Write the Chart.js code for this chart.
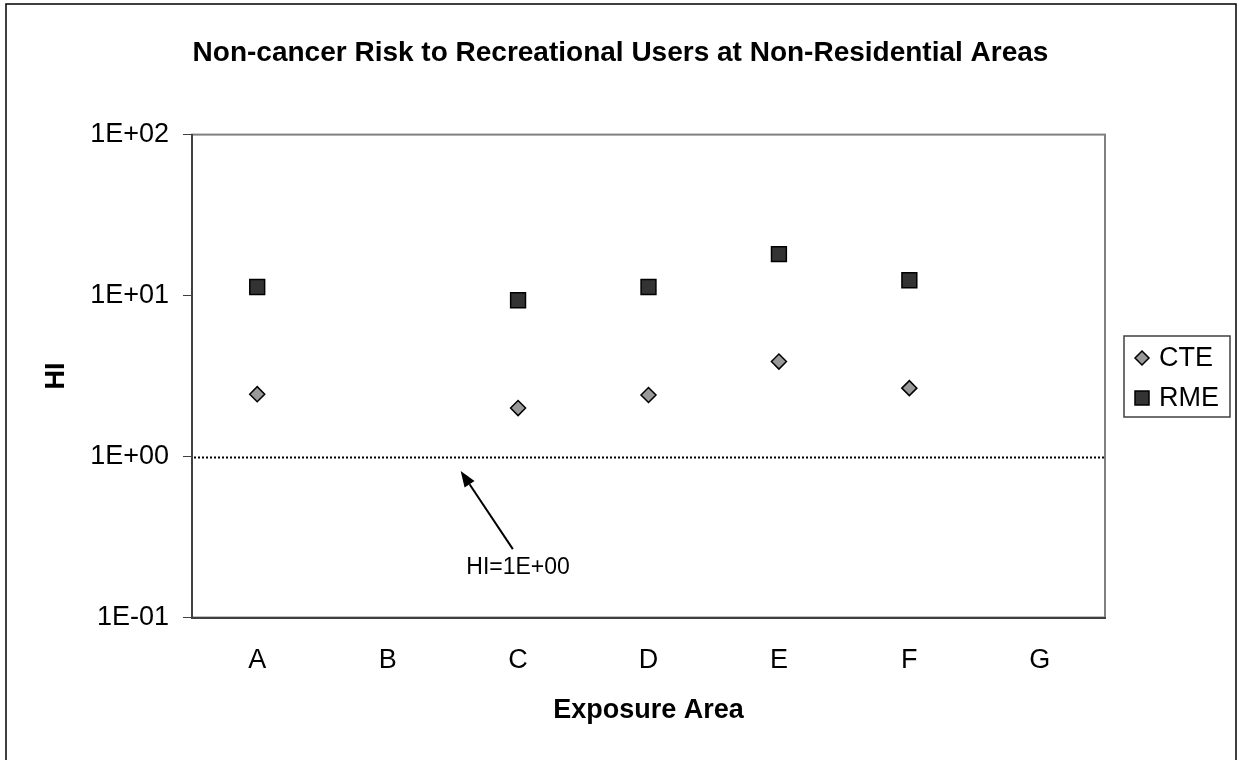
<!DOCTYPE html>
<html>
<head>
<meta charset="utf-8">
<script src="https://cdn.jsdelivr.net/npm/chart.js@4/dist/chart.umd.min.js"></script>
<style>
  html, body { margin: 0; padding: 0; background: #fff; }
  #wrap { width: 1241px; height: 760px; }
</style>
</head>
<body>
<div id="wrap"><canvas id="chart" width="1241" height="760"></canvas></div>
<script>
// values (HI per exposure area)
const areas = ['A', 'B', 'C', 'D', 'E', 'F', 'G'];
const cte = [2.44, null, 2.0, 2.41, 3.89, 2.66, null];
const rme = [11.3, null, 9.35, 11.3, 18.1, 12.45, null];
const yTicks = [0.1, 1, 10, 100];
const yTickLabels = ['1E-01', '1E+00', '1E+01', '1E+02'];
const threshold = 1;
const thresholdLabel = 'HI=1E+00';

// annotation anchors in data space (category index, HI)
const arrowTip = { x: 1.56, y: 0.814 };
const arrowTail = { x: 1.96, y: 0.266 };
const labelAt = { x: 2.0, y: 0.205 };

const FONT = '"Liberation Sans", Arial, Helvetica, sans-serif';

function diamond(ctx, x, y, r) {
  ctx.beginPath();
  ctx.moveTo(x, y - r);
  ctx.lineTo(x + r, y);
  ctx.lineTo(x, y + r);
  ctx.lineTo(x - r, y);
  ctx.closePath();
}

const decor = {
  id: 'decor',
  beforeDraw(chart) {
    const { ctx, chartArea: a } = chart;
    ctx.save();
    ctx.fillStyle = '#fff';
    ctx.fillRect(0, 0, chart.width, chart.height);
    // outer frame
    ctx.strokeStyle = '#000';
    ctx.lineWidth = 1.5;
    ctx.beginPath();
    ctx.moveTo(6, chart.height + 2);
    ctx.lineTo(6, 4);
    ctx.lineTo(1236, 4);
    ctx.lineTo(1236, chart.height + 2);
    ctx.stroke();
    // plot area frame
    ctx.strokeStyle = '#808080';
    ctx.lineWidth = 2;
    ctx.strokeRect(a.left, a.top, a.right - a.left, a.bottom - a.top);
    ctx.restore();
  },
  beforeDatasetsDraw(chart) {
    const { ctx, chartArea: a, scales } = chart;
    const y = Math.round(scales.y.getPixelForValue(threshold)) + 0.5;
    ctx.save();
    ctx.strokeStyle = '#000';
    ctx.lineWidth = 2;
    ctx.setLineDash([2, 2]);
    ctx.beginPath();
    ctx.moveTo(a.left + 2, y);
    ctx.lineTo(a.right, y);
    ctx.stroke();
    ctx.restore();
  },
  afterDraw(chart) {
    const { ctx, chartArea: a, scales } = chart;
    const x = scales.x, y = scales.y;
    ctx.save();

    // arrow pointing at the HI = 1 line
    const x1 = x.getPixelForValue(arrowTail.x), y1 = y.getPixelForValue(arrowTail.y);
    const x2 = x.getPixelForValue(arrowTip.x), y2 = y.getPixelForValue(arrowTip.y);
    const ang = Math.atan2(y2 - y1, x2 - x1);
    const head = 16, half = 6;
    const bx = x2 - head * Math.cos(ang), by = y2 - head * Math.sin(ang);
    ctx.strokeStyle = '#000';
    ctx.fillStyle = '#000';
    ctx.lineWidth = 2;
    ctx.beginPath();
    ctx.moveTo(x1, y1);
    ctx.lineTo(bx, by);
    ctx.stroke();
    ctx.beginPath();
    ctx.moveTo(x2, y2);
    ctx.lineTo(bx + half * Math.sin(ang), by - half * Math.cos(ang));
    ctx.lineTo(bx - half * Math.sin(ang), by + half * Math.cos(ang));
    ctx.closePath();
    ctx.fill();

    ctx.font = '23px ' + FONT;
    ctx.textAlign = 'center';
    ctx.textBaseline = 'middle';
    ctx.fillText(thresholdLabel, x.getPixelForValue(labelAt.x), y.getPixelForValue(labelAt.y));

    // legend box
    const lx = a.right + 19, lw = 106, lh = 81;
    const ly = Math.round((a.top + a.bottom) / 2 - lh / 2);
    ctx.strokeStyle = '#404040';
    ctx.lineWidth = 1.5;
    ctx.strokeRect(lx, ly, lw, lh);
    ctx.font = '27px ' + FONT;
    ctx.textAlign = 'left';
    chart.data.datasets.forEach((ds, i) => {
      const cy = ly + 22 + i * 40;
      const cx = lx + 18;
      ctx.fillStyle = ds.backgroundColor;
      ctx.strokeStyle = ds.borderColor;
      ctx.lineWidth = 1.5;
      if (ds.pointStyle === 'rectRot') {
        diamond(ctx, cx, cy, 7);
      } else {
        ctx.beginPath();
        ctx.rect(cx - 7, cy - 7, 14, 14);
      }
      ctx.fill();
      ctx.stroke();
      ctx.fillStyle = '#000';
      ctx.fillText(ds.label, lx + 35, cy + 1);
    });
    ctx.restore();
  }
};

new Chart(document.getElementById('chart'), {
  type: 'line',
  data: {
    labels: areas,
    datasets: [
      {
        label: 'CTE',
        data: cte,
        showLine: false,
        pointStyle: 'rectRot',
        pointRadius: 7.5,
        backgroundColor: '#999999',
        borderColor: '#000',
        pointBorderWidth: 1.5
      },
      {
        label: 'RME',
        data: rme,
        showLine: false,
        pointStyle: 'rect',
        pointRadius: 10.5,
        backgroundColor: '#333333',
        borderColor: '#000',
        pointBorderWidth: 1.5
      }
    ]
  },
  options: {
    responsive: false,
    animation: false,
    layout: { padding: 0 },
    plugins: {
      legend: { display: false },
      tooltip: { enabled: false },
      title: {
        display: true,
        text: 'Non-cancer Risk to Recreational Users at Non-Residential Areas',
        color: '#000',
        font: { family: FONT, size: 28, weight: 'bold' },
        padding: { top: 36, bottom: 65 }
      }
    },
    scales: {
      x: {
        type: 'category',
        offset: true,
        grid: { display: false, drawTicks: false },
        border: { display: true, color: '#404040', width: 2 },
        ticks: { color: '#000', font: { family: FONT, size: 27 }, padding: 27 },
        afterFit: (s) => { s.height = 142.5; },
        title: {
          display: true,
          text: 'Exposure Area',
          color: '#000',
          font: { family: FONT, size: 27, weight: 'bold' },
          padding: { top: 0, bottom: 33 }
        }
      },
      y: {
        type: 'logarithmic',
        min: 0.1,
        max: 100,
        afterBuildTicks: (s) => { s.ticks = yTicks.map(v => ({ value: v })); },
        afterFit: (s) => { s.width = 192; },
        grid: { drawOnChartArea: false, drawTicks: true, tickLength: 9, color: '#404040', lineWidth: 1 },
        border: { display: true, color: '#404040', width: 2 },
        ticks: {
          color: '#000',
          font: { family: FONT, size: 27 },
          padding: 14,
          callback: (v) => {
            const i = yTicks.findIndex(t => Math.abs(t - v) < 1e-9);
            return i >= 0 ? yTickLabels[i] : '';
          }
        },
        title: {
          display: true,
          text: 'HI',
          color: '#000',
          font: { family: FONT, size: 27, weight: 'bold' },
          padding: { top: 40, bottom: 0 }
        }
      },
      // empty right-hand strip that holds the legend, keeps the title centred on the canvas
      legendStrip: {
        type: 'linear',
        position: 'right',
        grid: { display: false, drawTicks: false },
        border: { display: false },
        ticks: { display: false },
        afterFit: (s) => { s.width = 136; }
      }
    }
  },
  plugins: [decor]
});
</script>
</body>
</html>
